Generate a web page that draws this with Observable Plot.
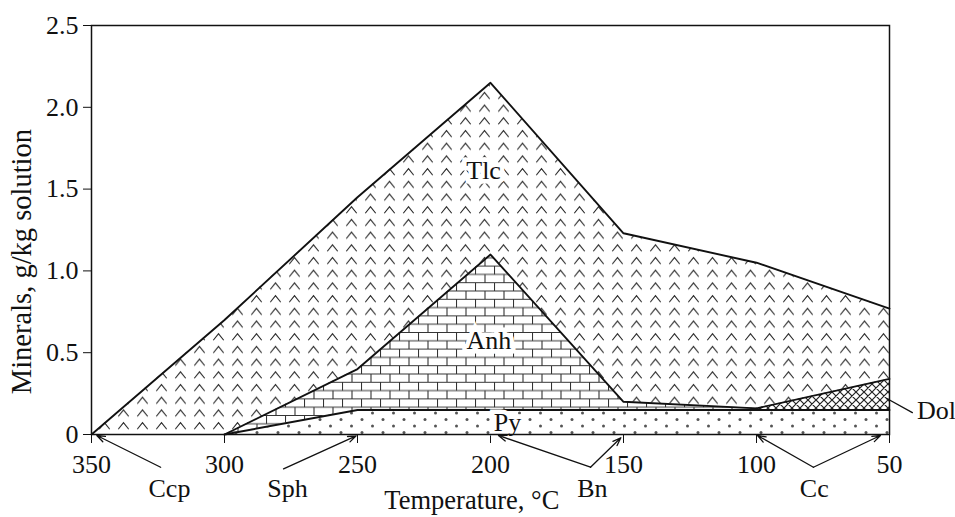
<!DOCTYPE html>
<html><head><meta charset="utf-8">
<script src="https://cdn.jsdelivr.net/npm/d3@7"></script>
<script src="https://cdn.jsdelivr.net/npm/@observablehq/plot@0.6"></script>
<style>body{margin:0;background:#fff} #chart{width:955px;height:517px}</style>
</head><body><div id="chart"></div>
<script>
// Temperature (°C) and boundary values (g/kg solution)
const temperature = [350, 300, 250, 200, 150, 100, 50];
const talcTop = [0, 0.70, 1.45, 2.15, 1.23, 1.05, 0.77];
const anhTemp = [300, 250, 200, 150, 100];
const anhTop = [0, 0.40, 1.10, 0.20, 0.16];
const pyTemp = [300, 250, 200, 150, 100, 50];
const pyTop = [0, 0.15, 0.15, 0.15, 0.15, 0.15];
const dolTemp = [100, 50];
const dolTop = [0.16, 0.34];
const dolBase = [0.15, 0.15];
const xTicks = [350, 300, 250, 200, 150, 100, 50];
const yTicks = [0, 0.5, 1.0, 1.5, 2.0, 2.5];
// mineral labels inside the areas
const mineralNames = ["Tlc", "Anh", "Py"];
const mineralT = [202.6, 200.6, 193.6];
const mineralV = [1.61, 0.575, 0.075];
// callouts below the axis
const calloutNames = ["Ccp", "Sph", "Bn", "Cc", "Dol"];
const calloutT = [320.7, 276.3, 161.7, 78.3, 32.3];
const calloutV = [-0.33, -0.33, -0.33, -0.33, 0.147];
// arrows: start (t1,v1) -> end (t2,v2)
const arrowT1 = [324, 277.8, 162.4, 162.4, 78.6, 78.6];
const arrowV1 = [-0.20, -0.21, -0.20, -0.20, -0.20, -0.20];
const arrowT2 = [348, 250.5, 197, 151, 99.6, 53.4];
const arrowV2 = [-0.006, -0.008, -0.006, -0.02, -0.006, -0.006];
const dolLineT = [41.4, 51];
const dolLineV = [0.134, 0.22];

const talc = temperature.map((t, i) => ({t, top: talcTop[i]}));
const anh = anhTemp.map((t, i) => ({t, top: anhTop[i], base: pyTop[pyTemp.indexOf(t)]}));
const py = pyTemp.map((t, i) => ({t, top: pyTop[i]}));
const dol = dolTemp.map((t, i) => ({t, top: dolTop[i], base: dolBase[i]}));
const minerals = mineralNames.map((n, i) => ({n, t: mineralT[i], v: mineralV[i]}));
const callouts = calloutNames.map((n, i) => ({n, t: calloutT[i], v: calloutV[i]}));
const arrows = arrowT1.map((t1, i) => ({t1, v1: arrowV1[i], t2: arrowT2[i], v2: arrowV2[i]}));

const font = "'Liberation Serif', 'Times New Roman', serif";
const FS = 26;
const chart = Plot.plot({
  width: 955, height: 517,
  marginLeft: 91, marginRight: 66, marginTop: 25, marginBottom: 83,
  style: {fontFamily: font, fontSize: FS + "px", color: "#111", background: "#fff"},
  x: {domain: [350, 50], ticks: xTicks, tickSize: 9, tickPadding: 11, label: null},
  y: {domain: [0, 2.5], ticks: yTicks, tickSize: 8, tickPadding: 5, label: null,
      tickFormat: d => d === 0 ? "0" : d.toFixed(1)},
  marks: [
    Plot.areaY(talc, {x: "t", y1: 0, y2: "top", fill: "url(#pat-tlc)"}),
    Plot.areaY(anh, {x: "t", y1: "base", y2: "top", fill: "url(#pat-anh)"}),
    Plot.areaY(dol, {x: "t", y1: "base", y2: "top", fill: "url(#pat-dol)"}),
    Plot.areaY(py, {x: "t", y1: 0, y2: "top", fill: "url(#pat-py)"}),
    Plot.line(talc, {x: "t", y: "top", stroke: "#111", strokeWidth: 1.9}),
    Plot.line(anh, {x: "t", y: "top", stroke: "#111", strokeWidth: 1.9}),
    Plot.line(dol, {x: "t", y: "top", stroke: "#111", strokeWidth: 1.9}),
    Plot.line(py, {x: "t", y: "top", stroke: "#111", strokeWidth: 1.9}),
    Plot.text(minerals, {x: "t", y: "v", text: "n", fontSize: FS, fill: "#111",
      stroke: "white", strokeWidth: 9, strokeLinejoin: "miter"}),
    Plot.frame({stroke: "#111", strokeWidth: 1.5}),
    Plot.arrow(arrows, {x1: "t1", y1: "v1", x2: "t2", y2: "v2", stroke: "#111",
      strokeWidth: 1.3, headLength: 10, headAngle: 40}),
    Plot.line(dolLineT.map((t, i) => ({t, v: dolLineV[i]})), {x: "t", y: "v", stroke: "#111", strokeWidth: 1.3}),
    Plot.text(callouts, {x: "t", y: "v", text: "n", fontSize: FS, fill: "#111"}),
    Plot.text(["Temperature, °C"], {x: 207, y: -0.405, fontSize: 26.5, fill: "#111"}),
    Plot.text(["Minerals, g/kg solution"], {x: 376, y: 1.057, rotate: -90, fontSize: 28.5, fill: "#111"})
  ]
});

const svg = d3.select(chart);
const defs = svg.insert("defs", ":first-child");
// talc: chevrons
let p = defs.append("pattern").attr("id", "pat-tlc").attr("patternUnits", "userSpaceOnUse")
  .attr("width", 19).attr("height", 12.7);
p.append("rect").attr("width", 19).attr("height", 12.7).attr("fill", "white");
p.append("path").attr("d", "M4.3,10 L9.5,3.5 L14.7,10").attr("fill", "none")
  .attr("stroke", "#222").attr("stroke-width", 1.1);
// anhydrite: bricks
p = defs.append("pattern").attr("id", "pat-anh").attr("patternUnits", "userSpaceOnUse")
  .attr("width", 19).attr("height", 16.6);
p.append("rect").attr("width", 19).attr("height", 16.6).attr("fill", "white");
p.append("path").attr("d", "M0,0.5 H19 M0,8.8 H19 M0.5,0.5 V8.8 M10,8.8 V16.6")
  .attr("fill", "none").attr("stroke", "#333").attr("stroke-width", 1.1);
// pyrite: dots
p = defs.append("pattern").attr("id", "pat-py").attr("patternUnits", "userSpaceOnUse")
  .attr("width", 21).attr("height", 13);
p.append("rect").attr("width", 21).attr("height", 13).attr("fill", "white");
p.append("circle").attr("cx", 5).attr("cy", 3.5).attr("r", 1.5).attr("fill", "#555");
p.append("circle").attr("cx", 15.5).attr("cy", 10).attr("r", 1.5).attr("fill", "#555");
// dolomite: woven hatch
p = defs.append("pattern").attr("id", "pat-dol").attr("patternUnits", "userSpaceOnUse")
  .attr("width", 8).attr("height", 8);
p.append("rect").attr("width", 8).attr("height", 8).attr("fill", "white");
p.append("path").attr("d", "M0,0 L8,8 M8,0 L0,8 M-2,6 L2,10 M6,-2 L10,2")
  .attr("fill", "none").attr("stroke", "#222").attr("stroke-width", 1.2);

document.getElementById("chart").appendChild(chart);
</script>
</body></html>
